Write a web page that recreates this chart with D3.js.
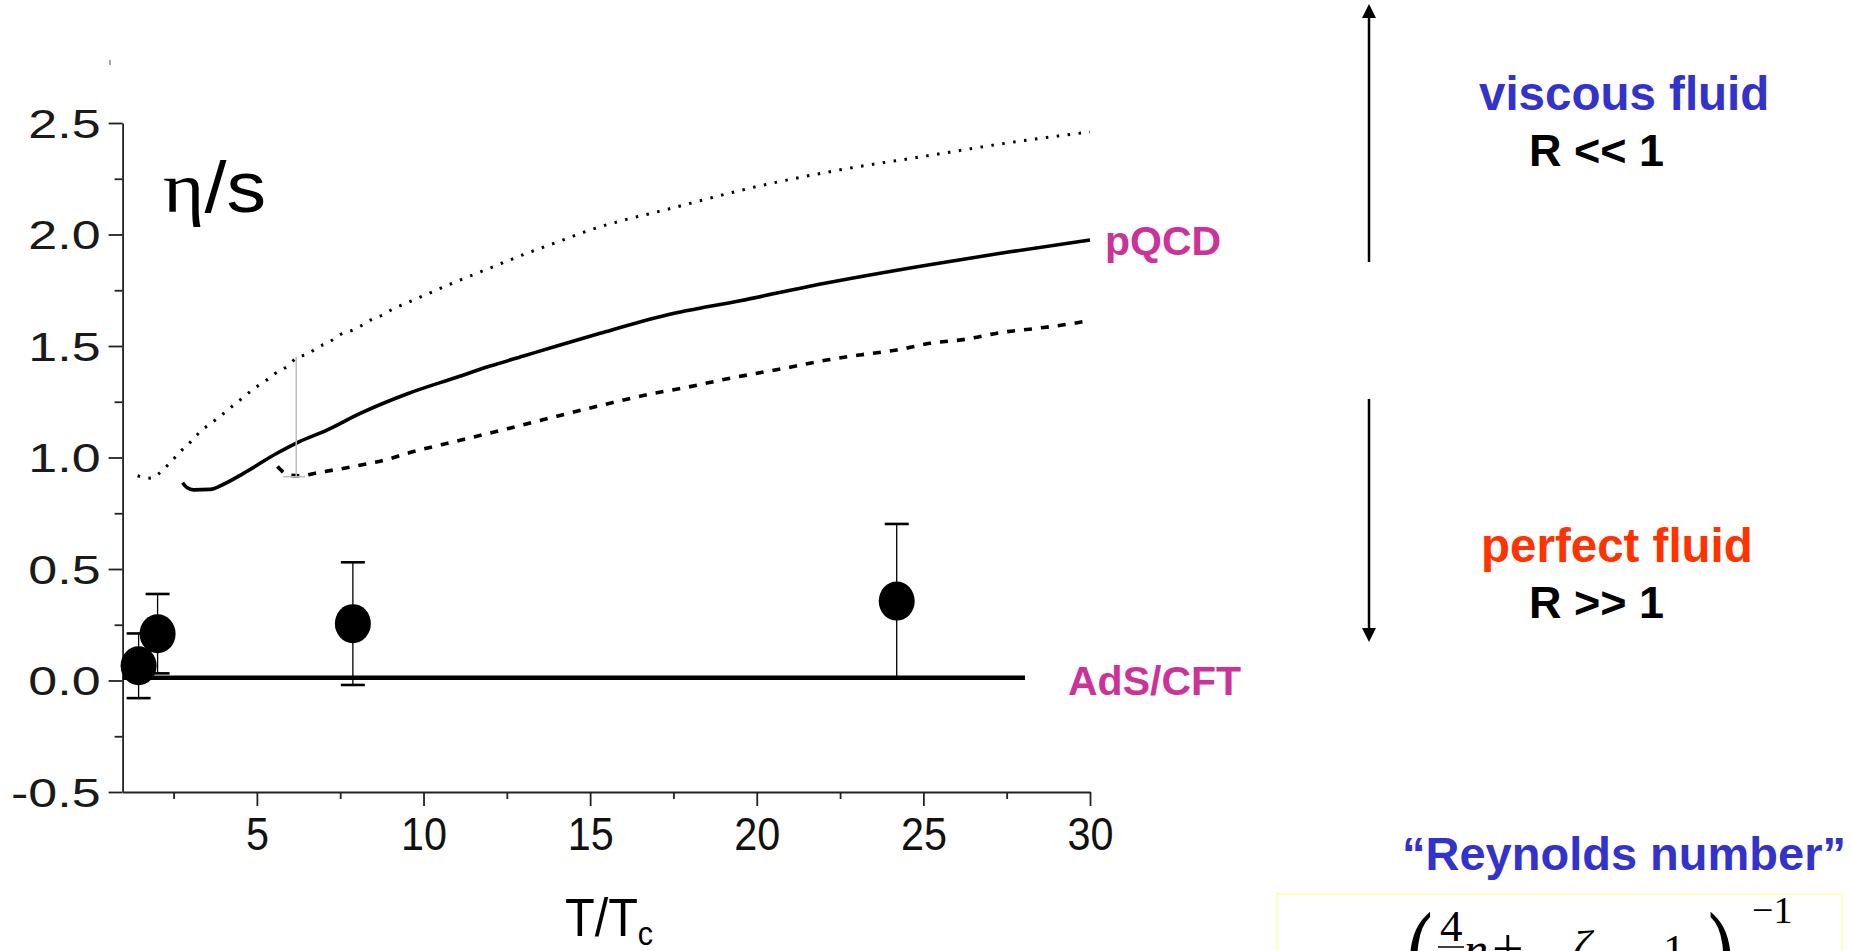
<!DOCTYPE html>
<html>
<head>
<meta charset="utf-8">
<script src="https://cdn.jsdelivr.net/npm/d3@7"></script>
<style>
  html, body { margin: 0; padding: 0; background: #fff; overflow: hidden; }
  svg { display: block; font-family: "Liberation Sans", Arial, sans-serif; }
</style>
</head>
<body>
<div id="chart"></div>
<script>
// Data (T/Tc, eta/s)

// upper pQCD band (dotted)
const pqcdUpper = [
  [1.42, 0.918], [1.82, 0.907], [2.12, 0.936], [2.42, 0.981], [2.72, 1.029],
  [3.02, 1.071], [3.32, 1.119], [3.62, 1.153], [3.97, 1.194], [4.27, 1.231],
  [4.62, 1.273], [4.92, 1.31], [5.27, 1.344], [5.52, 1.374], [5.92, 1.41],
  [6.18, 1.445], [6.57, 1.467], [6.82, 1.494], [7.17, 1.517], [7.47, 1.549],
  [7.8, 1.567], [8.12, 1.59], [8.42, 1.617], [8.77, 1.639], [9.12, 1.669],
  [9.42, 1.688], [11, 1.79], [12, 1.85], [13, 1.91], [14, 1.965], [15, 2.02],
  [17.5, 2.12], [20, 2.215], [22.5, 2.29], [25, 2.35], [27.5, 2.41], [30, 2.46]
];

// central pQCD curve (solid)
const pqcdMid = [
  [2.77, 0.887], [2.9, 0.865], [3.1, 0.855], [3.6, 0.857], [4.0, 0.88],
  [4.6, 0.929], [5.6, 1.019], [6.2, 1.066], [7.1, 1.123], [8.1, 1.198],
  [9.5, 1.285], [11, 1.36], [12, 1.41], [13, 1.455], [14, 1.5], [15.3, 1.557],
  [17.3, 1.639], [19.5, 1.703], [22, 1.78], [25, 1.86], [27.5, 1.92], [30, 1.975]
];

// lower pQCD band (dashed)
const pqcdLower = [
  [5.62, 0.96], [5.72, 0.944], [5.92, 0.922], [6.3, 0.918], [6.82, 0.932],
  [7.92, 0.96], [8.92, 0.992], [9.52, 1.019], [11, 1.074], [12, 1.11],
  [13, 1.147], [14, 1.185], [15.36, 1.235], [16.81, 1.285], [17.91, 1.315],
  [18.96, 1.348], [20.01, 1.378], [21.0, 1.405], [22.1, 1.437], [23.1, 1.46],
  [24.2, 1.482], [25.2, 1.512], [26.3, 1.531], [27.3, 1.56], [28.4, 1.579],
  [29.4, 1.599], [29.95, 1.613]
];

// lattice points
const latticeT = [1.45, 2.02, 7.88, 24.2];
const latticeEta = [0.066, 0.21, 0.255, 0.356];
const latticeErr = [0.145, 0.178, 0.275, 0.346];

// AdS/CFT bound line
const adsValue = 0.012;
const adsRange = [0.97, 28.05];

// gray band marker at the pQCD onset
const bandMarkT = 6.18;
const bandMarkRange = [0.914, 1.452];

// axes
const xMajorTicks = [5, 10, 15, 20, 25, 30];
const xMinorTicks = [2.5, 7.5, 12.5, 17.5, 22.5, 27.5];
const yMajorTicks = [-0.5, 0, 0.5, 1, 1.5, 2, 2.5];
const yMinorTicks = [-0.25, 0.25, 0.75, 1.25, 1.75, 2.25];

// layout
const W = 1851, H = 951;
const BLUE = "#3333cc", MAGENTA = "#cc3399", ORANGE = "#ff3300";

const svg = d3.select("#chart").append("svg")
  .attr("width", W).attr("height", H);

svg.append("rect").attr("width", W).attr("height", H).attr("fill", "#fff");

const x = d3.scaleLinear().domain([0.97, 30]).range([122.6, 1090]);
const y = d3.scaleLinear().domain([-0.5, 2.5]).range([792, 123]);

// axes
const yAxisMinor = svg.append("g")
  .attr("transform", `translate(${x(0.97)},0)`)
  .call(d3.axisLeft(y).tickValues(yMinorTicks).tickSize(8).tickSizeOuter(0).tickFormat(""));
yAxisMinor.select(".domain").remove();

const yAxis = svg.append("g")
  .attr("transform", `translate(${x(0.97)},0)`)
  .call(d3.axisLeft(y).tickValues(yMajorTicks).tickSize(14).tickSizeOuter(0)
    .tickFormat(d => d.toFixed(1)));

yAxis.selectAll(".tick text")
  .attr("x", -22 / 1.3)
  .attr("dy", "0.36em")
  .attr("transform", "scale(1.3,1)")
  .attr("fill", "#1a1a1a")
  .style("font-size", "40px");

const xAxisMinor = svg.append("g")
  .attr("transform", `translate(0,${y(-0.5)})`)
  .call(d3.axisBottom(x).tickValues(xMinorTicks).tickSize(7).tickSizeOuter(0).tickFormat(""));
xAxisMinor.select(".domain").remove();

const xAxis = svg.append("g")
  .attr("transform", `translate(0,${y(-0.5)})`)
  .call(d3.axisBottom(x).tickValues(xMajorTicks).tickSize(14).tickSizeOuter(0)
    .tickFormat(d3.format("d")));

xAxis.selectAll(".tick text")
  .attr("y", 25)
  .attr("transform", "scale(0.88,1)")
  .attr("fill", "#111")
  .style("font-size", "47px");

svg.selectAll(".domain").attr("stroke", "#222").attr("stroke-width", 1.8);
svg.selectAll(".tick line").attr("stroke", "#222").attr("stroke-width", 1.8);

// stray mark above the y axis
svg.append("line")
  .attr("x1", 110).attr("x2", 110).attr("y1", 60).attr("y2", 65)
  .attr("stroke", "#555").attr("stroke-width", 1);

// curves
const line = d3.line()
  .x(d => x(d[0]))
  .y(d => y(d[1]))
  .curve(d3.curveMonotoneX);

svg.append("path")
  .datum(pqcdUpper)
  .attr("fill", "none")
  .attr("stroke", "#000")
  .attr("stroke-width", 3)
  .attr("stroke-dasharray", "2.5,8.5")
  .attr("d", line);

svg.append("path")
  .datum(pqcdMid)
  .attr("fill", "none")
  .attr("stroke", "#000")
  .attr("stroke-width", 3.6)
  .attr("d", line);

svg.append("path")
  .datum(pqcdLower)
  .attr("fill", "none")
  .attr("stroke", "#000")
  .attr("stroke-width", 3.6)
  .attr("stroke-dasharray", "8,9")
  .attr("d", line);

// gray marker line
svg.append("line")
  .attr("x1", x(bandMarkT)).attr("x2", x(bandMarkT))
  .attr("y1", y(bandMarkRange[0])).attr("y2", y(bandMarkRange[1]))
  .attr("stroke", "#bbb").attr("stroke-width", 1.5);
svg.append("line")
  .attr("x1", x(bandMarkT) - 13).attr("x2", x(bandMarkT) + 9)
  .attr("y1", y(bandMarkRange[0])).attr("y2", y(bandMarkRange[0]))
  .attr("stroke", "#bbb").attr("stroke-width", 1.5);

// AdS/CFT line
svg.append("line")
  .attr("x1", x(adsRange[0])).attr("x2", x(adsRange[1]))
  .attr("y1", y(adsValue)).attr("y2", y(adsValue))
  .attr("stroke", "#000").attr("stroke-width", 4.5);

// lattice points with error bars
const lattice = latticeT.map((t, i) => ({ t: t, v: latticeEta[i], e: latticeErr[i] }));

const pts = svg.selectAll(".lattice")
  .data(lattice)
  .enter()
  .append("g")
  .attr("class", "lattice");

pts.append("line")
  .attr("x1", d => x(d.t)).attr("x2", d => x(d.t))
  .attr("y1", d => y(d.v - d.e)).attr("y2", d => y(d.v + d.e))
  .attr("stroke", "#000").attr("stroke-width", 1.3);

pts.append("line")
  .attr("x1", d => x(d.t) - 12).attr("x2", d => x(d.t) + 12)
  .attr("y1", d => y(d.v + d.e)).attr("y2", d => y(d.v + d.e))
  .attr("stroke", "#000").attr("stroke-width", 2.6);

pts.append("line")
  .attr("x1", d => x(d.t) - 12).attr("x2", d => x(d.t) + 12)
  .attr("y1", d => y(d.v - d.e)).attr("y2", d => y(d.v - d.e))
  .attr("stroke", "#000").attr("stroke-width", 2.6);

pts.append("ellipse")
  .attr("cx", d => x(d.t)).attr("cy", d => y(d.v))
  .attr("rx", 18).attr("ry", 19.5)
  .attr("fill", "#000");

// labels on the plot
svg.append("text")
  .attr("x", 163).attr("y", 212)
  .attr("textLength", 103).attr("lengthAdjust", "spacingAndGlyphs")
  .style("font-size", "72px")
  .attr("fill", "#000")
  .html('<tspan style="font-family:\'Liberation Serif\',serif">η</tspan>/s');

svg.append("text")
  .attr("x", 1105).attr("y", 255)
  .style("font-size", "41px").style("font-weight", "bold")
  .attr("fill", MAGENTA)
  .text("pQCD");

svg.append("text")
  .attr("x", 1068).attr("y", 695)
  .style("font-size", "41px").style("font-weight", "bold")
  .attr("fill", MAGENTA)
  .text("AdS/CFT");

svg.append("text")
  .attr("transform", "translate(565,936) scale(0.9,1)")
  .style("font-size", "54px")
  .attr("fill", "#000")
  .html('T/T<tspan dy="9" style="font-size:34px">c</tspan>');

// right-hand annotations
const arrowX = 1369;
svg.append("line")
  .attr("x1", arrowX).attr("x2", arrowX).attr("y1", 14).attr("y2", 262)
  .attr("stroke", "#000").attr("stroke-width", 2.5);
svg.append("path")
  .attr("d", `M${arrowX},4 L${arrowX - 7},18 L${arrowX + 7},18 Z`)
  .attr("fill", "#000");

svg.append("line")
  .attr("x1", arrowX).attr("x2", arrowX).attr("y1", 399).attr("y2", 630)
  .attr("stroke", "#000").attr("stroke-width", 2.5);
svg.append("path")
  .attr("d", `M${arrowX},642 L${arrowX - 7},628 L${arrowX + 7},628 Z`)
  .attr("fill", "#000");

svg.append("text")
  .attr("x", 1479).attr("y", 110)
  .style("font-size", "47.5px").style("font-weight", "bold")
  .attr("fill", BLUE)
  .text("viscous fluid");

svg.append("text")
  .attr("x", 1529).attr("y", 166)
  .style("font-size", "45px").style("font-weight", "bold")
  .attr("fill", "#000")
  .text("R << 1");

svg.append("text")
  .attr("x", 1481).attr("y", 562)
  .style("font-size", "47.5px").style("font-weight", "bold")
  .attr("fill", ORANGE)
  .text("perfect fluid");

svg.append("text")
  .attr("x", 1529).attr("y", 618)
  .style("font-size", "45px").style("font-weight", "bold")
  .attr("fill", "#000")
  .text("R >> 1");

svg.append("text")
  .attr("x", 1402).attr("y", 870)
  .style("font-size", "47px").style("font-weight", "bold")
  .attr("fill", BLUE)
  .text("\u201cReynolds number\u201d");

// formula box (cut off at the bottom of the slide)
svg.append("rect")
  .attr("x", 1277).attr("y", 894).attr("width", 565).attr("height", 100)
  .attr("fill", "none").attr("stroke", "#ffffc4").attr("stroke-width", 2);

const formula = svg.append("g")
  .style("font-family", "'Liberation Serif', 'DejaVu Serif', serif")
  .attr("fill", "#000");

formula.append("text").attr("transform", "translate(1406,1000) scale(1,1.6)")
  .style("font-size", "80px").text("(");
formula.append("text").attr("x", 1440).attr("y", 941).style("font-size", "45px").text("4");
formula.append("line").attr("x1", 1438).attr("x2", 1464).attr("y1", 947).attr("y2", 947)
  .attr("stroke", "#000").attr("stroke-width", 1.5);
formula.append("text").attr("x", 1464).attr("y", 966).style("font-size", "48px")
  .style("font-style", "italic").text("η");
formula.append("text").attr("x", 1492).attr("y", 968).style("font-size", "56px").text("+");
formula.append("text").attr("x", 1572).attr("y", 964).style("font-size", "48px")
  .style("font-style", "italic").text("ζ");
formula.append("text").attr("x", 1663).attr("y", 965).style("font-size", "44px").text("1");
formula.append("text").attr("transform", "translate(1708,1000) scale(1,1.6)")
  .style("font-size", "80px").text(")");
formula.append("text").attr("x", 1752).attr("y", 923).style("font-size", "38px").text("\u22121");
</script>
</body>
</html>
